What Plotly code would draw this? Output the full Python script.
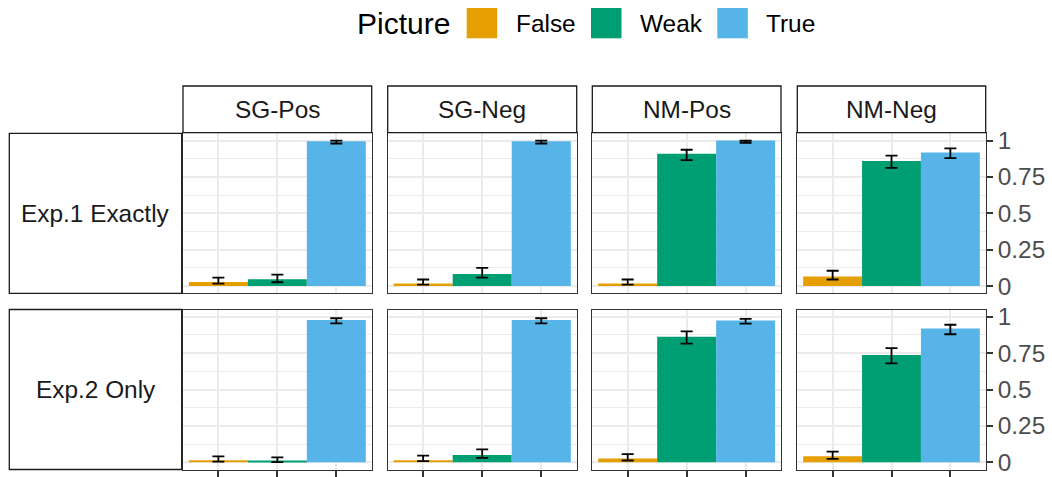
import plotly.graph_objects as go

# ---------------- data ----------------
categories = ["False", "Weak", "True"]
colors = ["#E69F00", "#009E73", "#56B4E9"]
conditions = ["SG-Pos", "SG-Neg", "NM-Pos", "NM-Neg"]
experiments = ["Exp.1 Exactly", "Exp.2 Only"]

# Exp.1 Exactly : mean, lower CI, upper CI  (per condition, order False/Weak/True)
exp1_mean = {
    "SG-Pos": [0.027, 0.046, 0.996],
    "SG-Neg": [0.018, 0.082, 0.996],
    "NM-Pos": [0.018, 0.909, 1.000],
    "NM-Neg": [0.066, 0.859, 0.918],
}
exp1_low = {
    "SG-Pos": [0.017, 0.026, 0.980],
    "SG-Neg": [0.009, 0.058, 0.980],
    "NM-Pos": [0.009, 0.865, 0.985],
    "NM-Neg": [0.045, 0.812, 0.879],
}
exp1_high = {
    "SG-Pos": [0.058, 0.078, 1.000],
    "SG-Neg": [0.045, 0.125, 1.000],
    "NM-Pos": [0.045, 0.937, 1.000],
    "NM-Neg": [0.105, 0.896, 0.946],
}
# Exp.2 Only
exp2_mean = {
    "SG-Pos": [0.014, 0.010, 0.977],
    "SG-Neg": [0.014, 0.050, 0.977],
    "NM-Pos": [0.025, 0.863, 0.975],
    "NM-Neg": [0.041, 0.738, 0.920],
}
exp2_low = {
    "SG-Pos": [0.004, 0.001, 0.955],
    "SG-Neg": [0.008, 0.030, 0.955],
    "NM-Pos": [0.012, 0.815, 0.953],
    "NM-Neg": [0.023, 0.680, 0.880],
}
exp2_high = {
    "SG-Pos": [0.040, 0.033, 0.990],
    "SG-Neg": [0.045, 0.088, 0.990],
    "NM-Pos": [0.056, 0.900, 0.985],
    "NM-Neg": [0.073, 0.785, 0.945],
}
y_tickvals = [0, 0.25, 0.5, 0.75, 1]
y_ticktext = ["0", "0.25", "0.5", "0.75", "1"]
y_minor = [0.125, 0.375, 0.625, 0.875]

means = [exp1_mean, exp2_mean]
lows = [exp1_low, exp2_low]
highs = [exp1_high, exp2_high]

# ---------------- layout geometry (pixels) ----------------
W, H = 1052, 477
panels_x = [(183.0, 371.7), (387.7, 576.7), (592.3, 781.0), (797.3, 985.7)]
rows_y = [(133.3, 293.3), (309.5, 469.5)]
strip_y = (86.0, 132.7)
rowstrip_x = (9.3, 181.7)

def fx(x):
    return x / W

def fy(y):
    return 1 - y / H

FONT = "Liberation Sans, Arial, Helvetica, sans-serif"
SMALL = 24.4
fig = go.Figure()
layout = dict(
    template="none",
    width=W, height=H, autosize=False,
    margin=dict(l=0, r=0, t=0, b=0, pad=0, autoexpand=False),
    paper_bgcolor="white", plot_bgcolor="white",
    showlegend=False,
    font=dict(family=FONT, color="#1A1A1A"),
    shapes=[], annotations=[],
)

x_cat = [1, 2, 3]
for r in range(2):
    for c, cond in enumerate(conditions):
        n = r * 4 + c + 1
        xa = "x" if n == 1 else f"x{n}"
        ya = "y" if n == 1 else f"y{n}"
        m = means[r][cond]
        lo = lows[r][cond]
        hi = highs[r][cond]
        fig.add_trace(go.Bar(
            x=x_cat, y=m, width=1.0,
            marker=dict(color=colors, line=dict(width=0)),
            error_y=dict(type="data", symmetric=False,
                         array=[h - v for h, v in zip(hi, m)],
                         arrayminus=[v - l for v, l in zip(m, lo)],
                         color="black", thickness=1.8, width=6),
            xaxis=xa, yaxis=ya, hoverinfo="skip",
        ))
        x0, x1 = panels_x[c]
        y0, y1 = rows_y[r]
        xkey = "xaxis" if n == 1 else f"xaxis{n}"
        ykey = "yaxis" if n == 1 else f"yaxis{n}"
        layout[xkey] = dict(
            domain=[fx(x0), fx(x1)], anchor=ya, range=[0.4, 3.6],
            automargin=False,
            tickmode="array", tickvals=x_cat, showticklabels=False,
            showgrid=True, gridcolor="#EBEBEB", gridwidth=2.2,
            zeroline=False, showline=True, mirror=True,
            linecolor="#333333", linewidth=1.3,
            ticks="outside" if r == 1 else "", ticklen=7, tickwidth=2,
            tickcolor="#333333", fixedrange=True,
        )
        layout[ykey] = dict(
            domain=[fy(y1), fy(y0)], anchor=xa, range=[-0.05, 1.05],
            automargin=False,
            tickmode="array", tickvals=y_tickvals, ticktext=y_ticktext,
            showticklabels=(c == 3), side="right",
            ticks="outside" if c == 3 else "", ticklen=6, tickwidth=1.8,
            tickcolor="#333333",
            tickfont=dict(size=SMALL, color="#4D4D4D", family=FONT),
            showgrid=True, gridcolor="#EBEBEB", gridwidth=2.0,
            minor=dict(tickmode="array", tickvals=y_minor, showgrid=True,
                       gridcolor="#EBEBEB", gridwidth=1.2, ticks=""),
            zeroline=False, showline=True, mirror=True,
            linecolor="#333333", linewidth=1.3, fixedrange=True,
        )

# column strips
for c, cond in enumerate(conditions):
    x0, x1 = panels_x[c]
    layout["shapes"].append(dict(
        type="rect", xref="paper", yref="paper",
        x0=fx(x0), x1=fx(x1), y0=fy(strip_y[1]), y1=fy(strip_y[0]),
        line=dict(color="#1A1A1A", width=1.3), fillcolor="white"))
    layout["annotations"].append(dict(
        xref="paper", yref="paper", x=fx((x0 + x1) / 2), y=fy((strip_y[0] + strip_y[1]) / 2),
        text=cond, showarrow=False, xanchor="center", yanchor="middle",
        font=dict(size=SMALL, color="#1A1A1A", family=FONT)))

# row strips
for r, exp in enumerate(experiments):
    y0, y1 = rows_y[r]
    layout["shapes"].append(dict(
        type="rect", xref="paper", yref="paper",
        x0=fx(rowstrip_x[0]), x1=fx(rowstrip_x[1]), y0=fy(y1), y1=fy(y0),
        line=dict(color="#1A1A1A", width=1.3), fillcolor="white"))
    layout["annotations"].append(dict(
        xref="paper", yref="paper", x=fx((rowstrip_x[0] + rowstrip_x[1]) / 2),
        y=fy((y0 + y1) / 2), text=exp, showarrow=False,
        xanchor="center", yanchor="middle",
        font=dict(size=SMALL, color="#1A1A1A", family=FONT)))

# legend (drawn manually)
leg_y0, leg_y1 = 8.0, 38.3
leg_cy = (leg_y0 + leg_y1) / 2
layout["annotations"].append(dict(
    xref="paper", yref="paper", x=fx(355), y=fy(leg_cy), text="Picture",
    showarrow=False, xanchor="left", yanchor="middle",
    font=dict(size=30, color="black", family=FONT)))
box_x = [466.7, 591.0, 717.3]
label_x = [514.0, 638.0, 764.0]
for i, cat in enumerate(categories):
    layout["shapes"].append(dict(
        type="rect", xref="paper", yref="paper",
        x0=fx(box_x[i]), x1=fx(box_x[i] + 30.5), y0=fy(leg_y1), y1=fy(leg_y0),
        line=dict(width=0), fillcolor=colors[i]))
    layout["annotations"].append(dict(
        xref="paper", yref="paper", x=fx(label_x[i]), y=fy(leg_cy), text=cat,
        showarrow=False, xanchor="left", yanchor="middle",
        font=dict(size=SMALL, color="black", family=FONT)))

fig.update_layout(**layout)
fig.write_html(
    "out.html",
    config={"displayModeBar": False, "responsive": False},
    post_script="document.body.style.margin='0';document.body.style.overflow='hidden';",
)
